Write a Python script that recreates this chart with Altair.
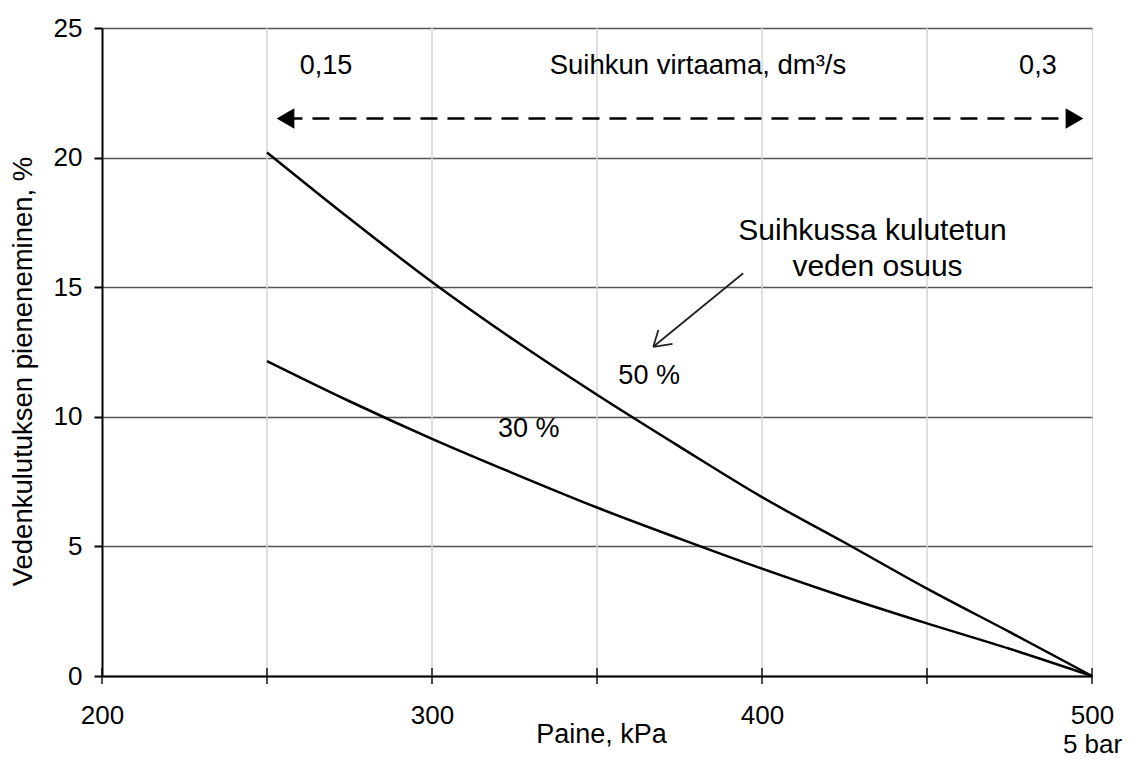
import altair as alt
import pandas as pd

# --- data ---
pressure = [250, 275, 300, 325, 350, 375, 400, 425, 450, 475, 500]
share50 = [20.2, 17.65, 15.2, 12.95, 10.85, 8.85, 6.9, 5.15, 3.37, 1.7, 0.0]
share30 = [12.15, 10.6, 9.15, 7.8, 6.5, 5.3, 4.14, 3.05, 2.03, 1.05, 0.0]

x_grid = [250, 300, 350, 400, 450]
x_ticks = [200, 250, 300, 350, 400, 450, 500]
x_labels = [200, 300, 400, 500]
y_ticks = [0, 5, 10, 15, 20, 25]

# flow-range double arrow (dashed)
flow_y = 21.51
flow_x = [255.6, 494.7]

# annotation arrow (tail -> tip) and its open head wings
arrow_tail = (394.3, 15.54)
arrow_tip = (367.06, 12.70)
arrow_wings = [(368.6, 13.35), (372.9, 12.81)]

texts = [
    {"x": 267.9, "y": 23.55, "t": "0,15", "fs": 27},
    {"x": 380.6, "y": 23.55, "t": "Suihkun virtaama, dm³/s", "fs": 27.5},
    {"x": 483.6, "y": 23.55, "t": "0,3", "fs": 27},
    {"x": 433.5, "y": 17.17, "t": "Suihkussa kulutetun", "fs": 30},
    {"x": 435.0, "y": 15.78, "t": "veden osuus", "fs": 30},
    {"x": 365.8, "y": 11.57, "t": "50 %", "fs": 27},
    {"x": 329.3, "y": 9.54, "t": "30 %", "fs": 27},
]

FONT = "Liberation Sans"

lines_df = pd.DataFrame(
    {"p": pressure * 2,
     "v": share50 + share30,
     "s": ["50 %"] * len(pressure) + ["30 %"] * len(pressure)}
)

xs = alt.Scale(domain=[200, 500], nice=False, zero=False)
ys = alt.Scale(domain=[0, 25], nice=False)

x_axis = alt.Axis(
    values=x_labels, grid=False, ticks=False, domain=True,
    domainColor="black", domainWidth=2,
    labelFontSize=26, labelPadding=26, labelColor="black", labelFont=FONT,
    labelLineHeight=29,
    labelExpr="datum.value == 500 ? ['500', '5 bar'] : datum.label",
    title="Paine, kPa", titleFontSize=27, titleFontWeight="normal",
    titleColor="black", titleFont=FONT,
    titleX=499, titleY=58, titleBaseline="middle", titleAlign="center",
    labelFlush=False, labelOverlap=False,
)
y_axis = alt.Axis(
    values=y_ticks, grid=True, gridColor="#555555", gridWidth=1.5,
    ticks=True, tickSize=8, tickWidth=2, tickColor="black",
    domain=True, domainColor="black", domainWidth=2,
    labelFontSize=26, labelPadding=12, labelColor="black", labelFont=FONT,
    labelFlush=False,
    title="Vedenkulutuksen pieneneminen, %", titleFontSize=27.5,
    titleFontWeight="normal", titleColor="black", titleFont=FONT,
    titleX=-79, titleY=343, titleBaseline="middle", titleAlign="center",
)

vgrid = alt.Chart(pd.DataFrame({"x": x_grid})).mark_rule(
    color="#d4d4d4", strokeWidth=1.5
).encode(x=alt.X("x:Q", scale=xs, axis=x_axis))

curves = alt.Chart(lines_df).mark_line(
    color="black", strokeWidth=2.5, interpolate="monotone"
).encode(
    x=alt.X("p:Q", scale=xs),
    y=alt.Y("v:Q", scale=ys, axis=y_axis),
    detail="s:N",
)

xticks = alt.Chart(pd.DataFrame({"x": x_ticks, "y": [0] * len(x_ticks)})).mark_tick(
    color="black", size=16, thickness=2, orient="vertical", clip=False
).encode(x=alt.X("x:Q", scale=xs), y=alt.Y("y:Q", scale=ys))

flow_line = alt.Chart(pd.DataFrame({"x": [flow_x[0]], "x2": [flow_x[1]], "y": [flow_y]})).mark_rule(
    color="black", strokeWidth=2.5, strokeDash=[17, 10]
).encode(x=alt.X("x:Q", scale=xs), x2="x2:Q", y=alt.Y("y:Q", scale=ys))

heads_df = pd.DataFrame({"x": flow_x, "y": [flow_y, flow_y], "sh": ["triangle-left", "triangle-right"]})
heads = alt.Chart(heads_df).mark_point(
    filled=True, color="black", size=420, opacity=1
).encode(
    x=alt.X("x:Q", scale=xs), y=alt.Y("y:Q", scale=ys),
    shape=alt.Shape("sh:N", scale=None, legend=None),
)

seg_df = pd.DataFrame({
    "x": [arrow_tail[0]] + [arrow_tip[0]] * len(arrow_wings),
    "y": [arrow_tail[1]] + [arrow_tip[1]] * len(arrow_wings),
    "x2": [arrow_tip[0]] + [w[0] for w in arrow_wings],
    "y2": [arrow_tip[1]] + [w[1] for w in arrow_wings],
})
arrow = alt.Chart(seg_df).mark_rule(color="#222222", strokeWidth=1.8).encode(
    x=alt.X("x:Q", scale=xs), y=alt.Y("y:Q", scale=ys), x2="x2:Q", y2="y2:Q"
)

text_df = pd.DataFrame(texts)
labels = alt.Chart(text_df).mark_text(
    color="black", font=FONT, align="center", baseline="middle"
).encode(
    x=alt.X("x:Q", scale=xs), y=alt.Y("y:Q", scale=ys),
    text="t:N", size=alt.Size("fs:Q", scale=None, legend=None),
)

chart = alt.layer(vgrid, curves, flow_line, heads, arrow, labels, xticks).properties(
    width=990, height=648,
    autosize=alt.AutoSizeParams(type="none"),
    padding={"left": 94, "top": 20, "right": 37, "bottom": 84},
).configure_view(
    stroke="black", strokeWidth=2
).configure(font=FONT, background="white")

chart.save("out.html", embed_options={"renderer": "svg", "actions": False})
